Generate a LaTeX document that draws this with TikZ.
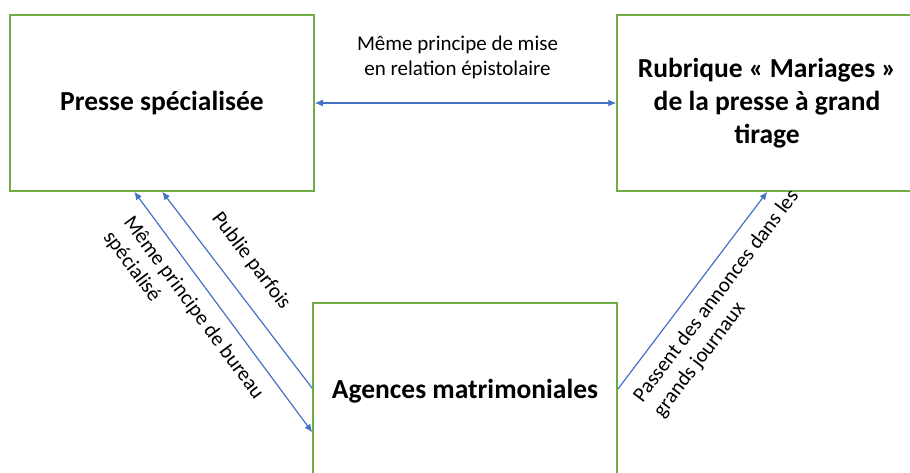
\documentclass[tikz,border=0pt]{standalone}
\usepackage{fontspec}
\setmainfont{Carlito}
\usetikzlibrary{arrows.meta}
\definecolor{boxgreen}{RGB}{112,173,71}
\definecolor{linkblue}{RGB}{68,114,196}

\begin{document}
\begin{tikzpicture}[x=1pt,y=1pt]
\tikzstyle{every node}+=[inner sep=0pt]
\tikzstyle{box}=[draw=boxgreen, line width=1.5pt, minimum height=176pt, align=center, font=\fontsize{27.5}{33}\selectfont\bfseries]
\tikzstyle{link}=[draw=linkblue, line width=1.2pt, >={Latex[length=8pt,width=7pt]}]
\tikzstyle{lbl}=[font=\fontsize{21}{25}\selectfont, text=black]
\useasboundingbox (0,0) rectangle (910,-473);
\node [box, minimum width=304pt] (ps) at (162,-103) {Presse spécialisée};
\node [box, minimum width=300pt] (rub) at (767,-103) {Rubrique « Mariages »\\de la presse à grand\\tirage};
\node [box, minimum width=304pt] (am) at (465,-391) {Agences matrimoniales};
\draw [link, <->] (ps.east) -- node [lbl, above=24pt, xshift=-8pt, align=center] {Même principe de mise\\en relation épistolaire} (rub.west);
\draw [link, <->] ([xshift=125pt]ps.south west) -- node [lbl, sloped, below=12pt, pos=0.43, align=left] {Même principe de bureau\\spécialisé} ([yshift=-130pt]am.north west);
\draw [link, <-] ([xshift=153pt]ps.south west) -- node [lbl, sloped, above=19pt, pos=0.44] {Publie parfois} ([yshift=-86pt]am.north west);
\draw [link, ->] ([yshift=-87pt]am.north east) -- node [lbl, sloped, below=13pt, pos=0.54, align=left] {Passent des annonces dans les\\grands journaux} ([xshift=151pt]rub.south west);
\end{tikzpicture}
\end{document}
